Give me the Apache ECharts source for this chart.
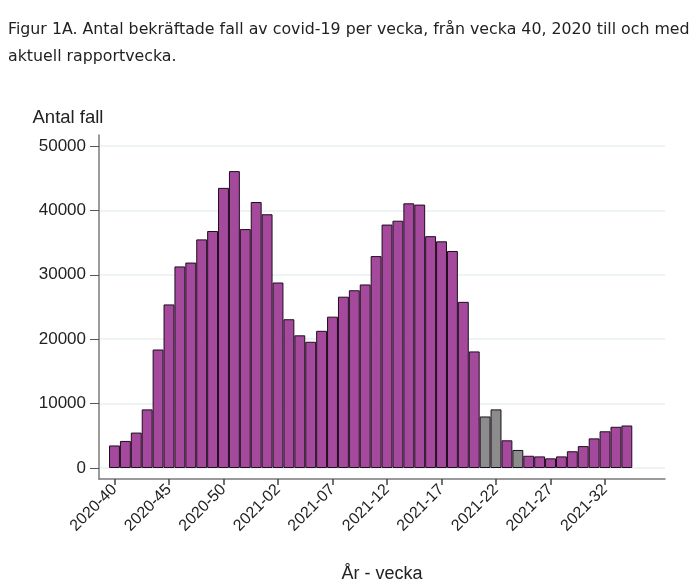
<!DOCTYPE html>
<html>
<head>
<meta charset="utf-8">
<script src="https://cdn.jsdelivr.net/npm/echarts@6/dist/echarts.min.js"></script>
<style>
  html, body { margin: 0; padding: 0; background: #fff; }
  #chart { width: 700px; height: 585px; }
</style>
</head>
<body>
<div id="chart"></div>
<script>
/* veckor, 2020-40 .. 2021-34 */
const weeks = [
    '2020-40', '2020-41', '2020-42', '2020-43', '2020-44', '2020-45', '2020-46', '2020-47',
    '2020-48', '2020-49', '2020-50', '2020-51', '2020-52', '2020-53',
    '2021-01', '2021-02', '2021-03', '2021-04', '2021-05', '2021-06', '2021-07', '2021-08',
    '2021-09', '2021-10', '2021-11', '2021-12', '2021-13', '2021-14', '2021-15', '2021-16',
    '2021-17', '2021-18', '2021-19', '2021-20', '2021-21', '2021-22', '2021-23', '2021-24',
    '2021-25', '2021-26', '2021-27', '2021-28', '2021-29', '2021-30', '2021-31', '2021-32',
    '2021-33', '2021-34'
];
/* antal fall per vecka */
const cases = [
    3500, 4200, 5500, 9100, 18400, 25400, 31300, 31900,
    35500, 36800, 43500, 46100, 37100, 41300,
    39400, 28800, 23100, 20600, 19600, 21300, 23500, 26600,
    27600, 28500, 32900, 37800, 38400, 41100, 40900, 36000,
    35200, 33700, 25800, 18100, 8000, 9100, 4300, 2800,
    1900, 1800, 1500, 1800, 2600, 3400, 4600, 5700,
    6400, 6600
];
/* veckor som visas i grått */
const grayWeeks = ['2021-21', '2021-22', '2021-24'];
/* etiketter på x-axeln, var femte vecka */
const tickWeeks = ['2020-40', '2020-45', '2020-50', '2021-02', '2021-07', '2021-12', '2021-17', '2021-22', '2021-27', '2021-32'];

const xMin = -1.42;
const xMax = 50.5;
const plotW = 566;
const barW = plotW / (xMax - xMin);
const tickIdx = tickWeeks.map((w) => weeks.indexOf(w));

const myChart = echarts.init(document.getElementById('chart'));
const option = {
    animation: false,
    title: {
        text: 'Figur 1A. Antal bekräftade fall av covid-19 per vecka, från vecka 40, 2020 till och med\naktuell rapportvecka.',
        left: 8,
        top: 16,
        padding: 0,
        textStyle: {
            fontFamily: 'DejaVu Sans',
            fontSize: 15.8,
            fontWeight: 'normal',
            color: '#222',
            lineHeight: 27
        }
    },
    grid: [
        { left: 99, right: 35, top: 146, bottom: 117, outerBoundsMode: 'none', containLabel: false },
        { left: 99, right: 35, top: 135, bottom: 106, outerBoundsMode: 'none', containLabel: false }
    ],
    xAxis: [
        {
            gridIndex: 0,
            type: 'value',
            min: xMin,
            max: xMax,
            show: false,
            axisLine: { onZero: false }
        },
        {
            gridIndex: 1,
            type: 'value',
            min: xMin,
            max: xMax,
            name: 'År - vecka',
            nameLocation: 'middle',
            nameGap: 86,
            nameTextStyle: { fontFamily: 'Liberation Sans', fontSize: 18, color: '#222' },
            axisLine: { show: true, onZero: false, lineStyle: { color: '#7a7a7a', width: 1.5 } },
            axisTick: { show: true, length: 6, customValues: tickIdx, lineStyle: { color: '#444', width: 1.5 } },
            axisLabel: {
                customValues: tickIdx,
                rotate: 45,
                margin: 8,
                fontFamily: 'Liberation Sans',
                fontSize: 16,
                color: '#222',
                formatter: (v) => weeks[Math.round(v)] || ''
            },
            splitLine: { show: false }
        }
    ],
    yAxis: [
        {
            gridIndex: 0,
            type: 'value',
            min: 0,
            max: 50000,
            interval: 10000,
            name: 'Antal fall',
            nameLocation: 'end',
            nameGap: 19,
            nameTextStyle: { fontFamily: 'Liberation Sans', fontSize: 18.5, color: '#222', padding: [0, 62, 0, 0] },
            axisLine: { show: false, onZero: false },
            axisTick: { show: true, length: 9, lineStyle: { color: '#555' } },
            axisLabel: {
                margin: 13,
                fontFamily: 'Liberation Sans',
                fontSize: 17,
                color: '#222',
                formatter: (v) => String(v)
            },
            splitLine: { show: true, lineStyle: { color: '#e9f0f1', width: 1.5 } }
        },
        {
            gridIndex: 1,
            type: 'value',
            axisLine: { show: true, onZero: false, lineStyle: { color: '#7a7a7a', width: 1.5 } },
            axisTick: { show: false },
            axisLabel: { show: false },
            splitLine: { show: false }
        }
    ],
    series: [
        {
            type: 'bar',
            xAxisIndex: 0,
            yAxisIndex: 0,
            barWidth: barW,
            data: cases.map((v, i) => [i, v]),
            itemStyle: {
                color: (p) => (grayWeeks.indexOf(weeks[p.dataIndex]) >= 0 ? '#8c8c8c' : '#a4499b'),
                borderColor: '#1e0d1e',
                borderWidth: 1
            }
        }
    ]
};
myChart.setOption(option);
</script>
</body>
</html>
